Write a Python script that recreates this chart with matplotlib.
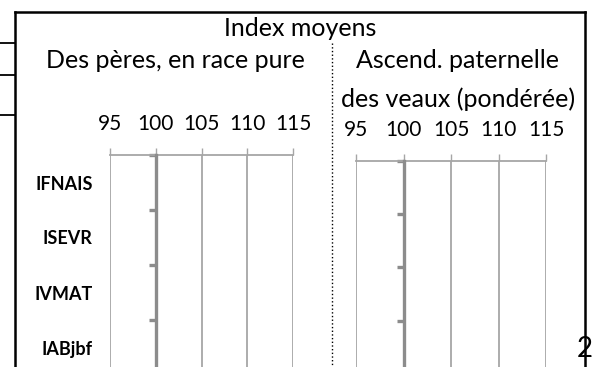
import matplotlib
matplotlib.use("Agg")
import matplotlib.pyplot as plt
from matplotlib.lines import Line2D
import numpy as np

plt.rcParams["font.family"] = ["Lato", "DejaVu Sans"]

# ── Data ──────────────────────────────────────────────────────────────────────
categories = ["IFNAIS", "ISEVR", "IVMAT", "IABjbf"]
peres_race_pure = [100, 100, 100, 100]       # index moyens des pères
ascend_paternelle = [100, 100, 100, 100]     # ascendance paternelle pondérée
x_ticks = [95, 100, 105, 110, 115]

title = "Index moyens"
sub_left = "Des pères, en race pure"
sub_right = ["Ascend. paternelle", "des veaux (pondérée)"]
page_no = "2"

W, H = 593, 367
GRID = "#a6a6a6"
AXIS = "#8c8c8c"


def fx(x):
    return x / W


def fy(y):
    return 1 - y / H


fig = plt.figure(figsize=(W / 100, H / 100), dpi=100)


def panel(rect, values):
    l, t, r, b = rect
    ax = fig.add_axes([fx(l), fy(b), fx(r) - fx(l), fy(t) - fy(b)])
    y = np.arange(len(categories))
    ax.barh(y, np.array(values) - 100, left=100, height=0.6,
            color="#4472c4", linewidth=0)
    ax.set_xlim(95, 115)
    ax.set_ylim(len(categories) - 0.5, -0.5)

    ax.xaxis.tick_top()
    ax.set_xticks(x_ticks)
    ax.set_xticklabels([str(v) for v in x_ticks], fontsize=15)
    ax.tick_params(axis="x", direction="out", length=5, width=1.0,
                   color=GRID, pad=10)
    ax.grid(axis="x", color=GRID, linewidth=1.3)
    ax.set_axisbelow(True)

    # category axis crosses at 100
    ax.spines["left"].set_position(("data", 100))
    ax.spines["left"].set_color(AXIS)
    ax.spines["left"].set_linewidth(2.4)
    ax.spines["left"].set_zorder(3)
    ax.set_yticks(y)
    ax.set_yticklabels(categories, fontsize=13, fontweight="bold")
    ax.set_yticks(np.arange(len(categories) + 1) - 0.5, minor=True)
    ax.tick_params(axis="y", which="major", length=0, pad=45.5)
    ax.tick_params(axis="y", which="minor", direction="out", length=5,
                   width=2.4, color=AXIS)
    ax.spines["top"].set_color(GRID)
    ax.spines["top"].set_linewidth(1.3)
    for s in ("right", "bottom"):
        ax.spines[s].set_visible(False)
    return ax


ax1 = panel((110, 155, 293, 375), peres_race_pure)
ax2 = panel((356, 160.5, 546, 374), ascend_paternelle)
ax2.set_yticklabels([])

# ── Titles ────────────────────────────────────────────────────────────────────
fig.text(fx(300), fy(36), title, fontsize=18, ha="center", va="baseline")
fig.text(fx(175), fy(68), sub_left, fontsize=18, ha="center", va="baseline")
fig.text(fx(458), fy(68), sub_right[0], fontsize=18, ha="center", va="baseline")
fig.text(fx(458), fy(107), sub_right[1], fontsize=18, ha="center", va="baseline")

# ── Frame, separators ─────────────────────────────────────────────────────────
lines = [
    ([15, 15], [12, 380], 1.8, "-"),
    ([15, 585], [12, 12], 1.8, "-"),
    ([585, 585], [12, 380], 1.8, "-"),
    ([0, 15], [43, 43], 1.3, "-"),
    ([0, 15], [75, 75], 1.3, "-"),
    ([0, 15], [115, 115], 1.3, "-"),
    ([332, 332], [43, 380], 1.0, ":"),
]
for xs, ys, lw, ls in lines:
    fig.add_artist(Line2D([fx(v) for v in xs], [fy(v) for v in ys],
                          color="black", linewidth=lw, linestyle=ls))

fig.text(fx(585), fy(357), page_no, fontsize=20, ha="center", va="baseline")

fig.savefig("out.png", dpi=100)
